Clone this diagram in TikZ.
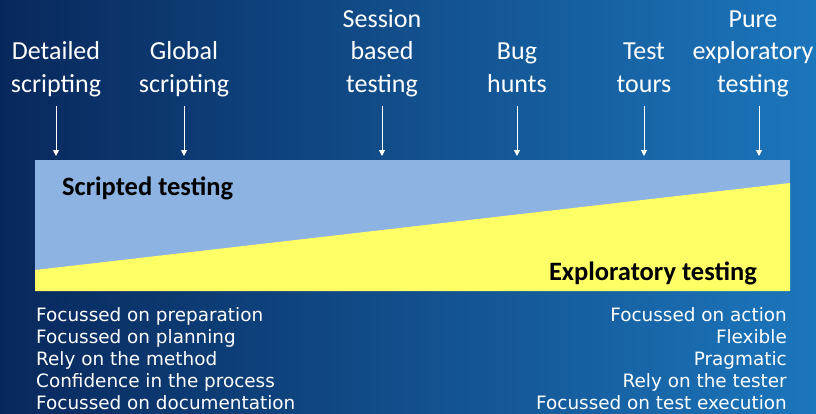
\documentclass[tikz,border=0pt]{standalone}
\usepackage{fontspec}
\setmainfont{Carlito}
\newfontfamily\verd{DejaVu Sans}
\usetikzlibrary{arrows.meta}
\definecolor{bgL}{RGB}{8,40,92}
\definecolor{bgR}{RGB}{28,118,188}
\definecolor{lblue}{RGB}{141,179,226}
\definecolor{lyel}{RGB}{255,255,102}
\tikzset{
  toplabel/.style={text=white, font=\fontsize{26}{32.5}\selectfont, align=center, inner sep=0pt},
  pointer/.style={draw=white, line width=1pt, -{Triangle[width=6pt,length=6pt]}},
  side/.style={text=black, font=\bfseries\fontsize{26.5}{30}\selectfont, inner sep=0pt},
  listtext/.style={text=white, font=\verd\fontsize{18.4}{22}\selectfont, inner sep=0pt},
}
\begin{document}
\begin{tikzpicture}[x=1pt,y=-1pt]
\useasboundingbox (0,0) rectangle (816,413);
\shade[left color=bgL, right color=bgR] (0,0) rectangle (816,413);
% band
\fill[lblue] (35,160) rectangle (790,291);
\fill[lyel] (35,270) -- (790,183) -- (790,291) -- (35,291) -- cycle;
\node[side, anchor=base west] (scr) at (62,195) {Scripted testing};
\node[side, anchor=base east] (exp) at (757,280) {Exploratory testing};
% labels
\node[toplabel, anchor=base] (l1) at (56,92) {Detailed\\scripting};
\node[toplabel, anchor=base] (l2) at (184,92) {Global\\scripting};
\node[toplabel, anchor=base] (l3) at (382,92) {Session\\based\\testing};
\node[toplabel, anchor=base] (l4) at (517,92) {Bug\\hunts};
\node[toplabel, anchor=base] (l5) at (644,92) {Test\\tours};
\node[toplabel, anchor=base] (l6) at (753,92) {Pure\\exploratory\\testing};
\foreach \x/\n in {56/1,184/2,382/3,517/4,644/5,759/6}{
  \coordinate (a\n) at (\x,106);
  \coordinate (b\n) at (\x,156);
  \draw[pointer] (a\n) -- (b\n);
}
% lists
\node[listtext, anchor=base west, align=left] (left) at (36,409) {Focussed on preparation\\Focussed on planning\\Rely on the method\\Confidence in the process\\Focussed on documentation};
\node[listtext, anchor=base east, align=right] (right) at (787,409) {Focussed on action\\Flexible\\Pragmatic\\Rely on the tester\\Focussed on test execution};
\end{tikzpicture}
\end{document}
